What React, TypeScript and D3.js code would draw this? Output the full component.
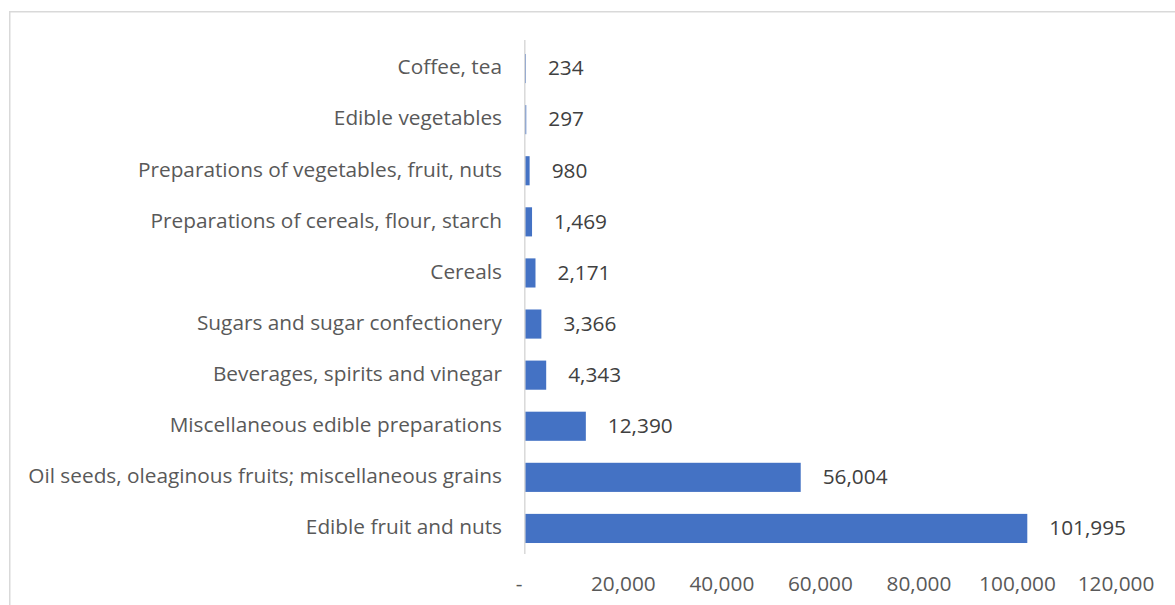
import React from "react";
import * as d3 from "d3";

const categories = [
  "Coffee, tea",
  "Edible vegetables",
  "Preparations of vegetables, fruit, nuts",
  "Preparations of cereals, flour, starch",
  "Cereals",
  "Sugars and sugar confectionery",
  "Beverages, spirits and vinegar",
  "Miscellaneous edible preparations",
  "Oil seeds, oleaginous fruits; miscellaneous grains",
  "Edible fruit and nuts",
];
const values = [234, 297, 980, 1469, 2171, 3366, 4343, 12390, 56004, 101995];
const xTicks = [0, 20000, 40000, 60000, 80000, 100000, 120000];

export default function App() {
  const W = 1175, H = 605;
  const x = d3.scaleLinear().domain([0, 120000]).range([524.8, 1116]);
  const y = d3.scaleBand<string>().domain(categories).range([43, 554]).paddingInner(0.43).paddingOuter(0.215);
  const fmt = d3.format(",");
  const font = "'Open Sans', sans-serif";
  const fs = 20.8;
  return (
    <svg width={W} height={H} style={{ position: "absolute", left: 0, top: 0 }}>
      <rect x={0} y={0} width={W} height={H} fill="#fff" />
      <rect x={9.75} y={11.75} width={W} height={H} fill="none" stroke="#d9d9d9" strokeWidth={1.5} />
      {categories.map((c, i) => (
        <g key={c}>
          <rect x={x(0)} y={y(c)!} width={x(values[i]) - x(0)} height={y.bandwidth()} fill="#4472C4" />
          <text x={502} y={y(c)! + y.bandwidth() / 2 - 1.5} dy="0.35em" textAnchor="end" fontFamily={font} fontSize={fs} fill="#595959">{c}</text>
          <text x={x(values[i]) + 22} y={y(c)! + y.bandwidth() / 2 - 0.5} dy="0.35em" textAnchor="start" fontFamily={font} fontSize={fs} fill="#404040">{fmt(values[i])}</text>
        </g>
      ))}
      <line x1={x(0)} x2={x(0)} y1={40} y2={554} stroke="#d9d9d9" strokeWidth={1.5} />
      {xTicks.map((t) => (
        <text key={t} x={t === 0 ? 519 : x(t)} y={583.5} dy="0.35em" textAnchor="middle" fontFamily={font} fontSize={fs} fill="#595959">{t === 0 ? "-" : fmt(t)}</text>
      ))}
    </svg>
  );
}
